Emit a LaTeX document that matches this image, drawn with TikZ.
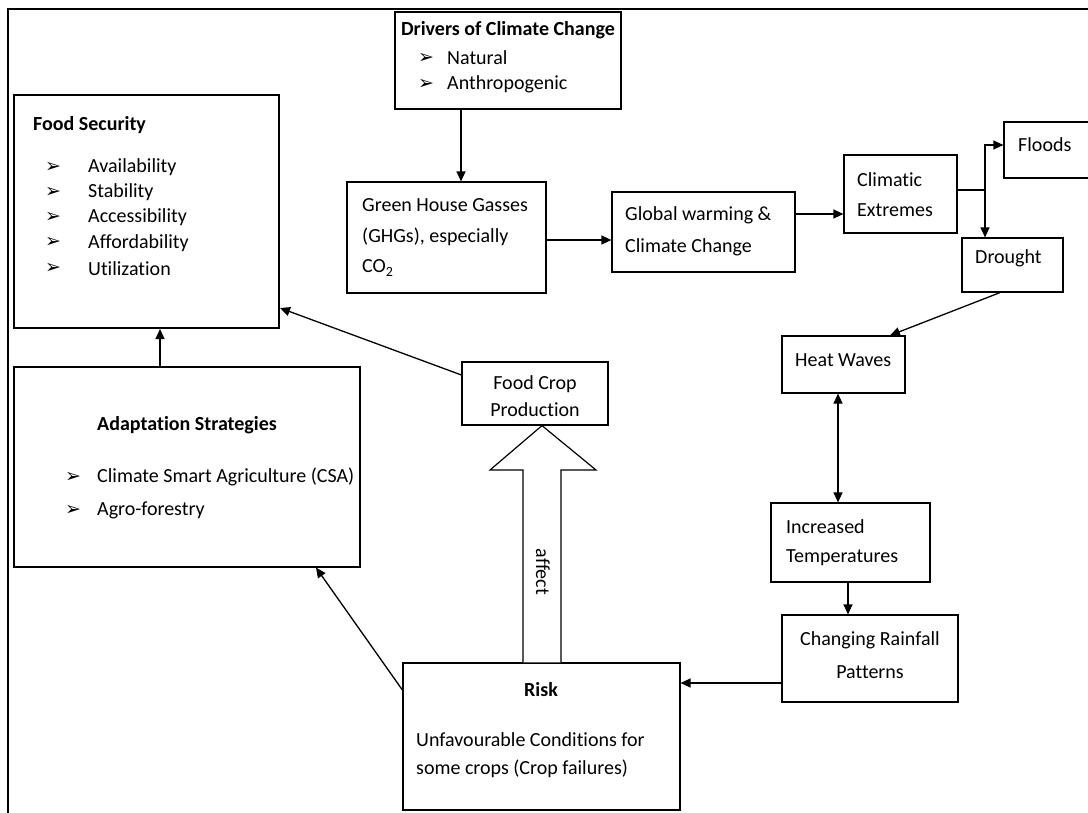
\documentclass[tikz,border=0pt]{standalone}
\usepackage{fontspec}
\setmainfont{Carlito}[Ligatures=NoCommon]
\newfontfamily\dv{DejaVu Sans}
\usetikzlibrary{arrows.meta,fit}
\newcommand\bul{{\dv\fontsize{19}{19}\selectfont ➢}}
\begin{document}
\begin{tikzpicture}[x=1pt,y=-1pt,
  box/.style={draw, line width=1.2pt, inner sep=0pt},
  tbox/.style={draw, line width=2pt, inner sep=0pt},
  txt/.style={inner sep=0pt, anchor=west, font=\fontsize{20}{25}\selectfont},
  ctxt/.style={inner sep=0pt, anchor=center, font=\fontsize{20}{25}\selectfont},
  arr/.style={-{Triangle[length=10pt,width=9pt]}, line width=1.3pt},
  arrr/.style={{Triangle[length=10pt,width=9pt]}-{Triangle[length=10pt,width=9pt]}, line width=1.3pt}
]
\useasboundingbox (0,0) rectangle (1088,812);
\fill[white] (0,0) rectangle (1088,812);
% outer frame (only top and left visible)
\draw[line width=2.5pt] (8,840) -- (8,9) -- (1120,9);

% boxes
\node[box, fit={(395,12)(621,109)}] (drv) {};
\node[tbox, fit={(14,95)(279,328)}] (fs) {};
\node[box, fit={(347,182)(546,293)}] (ghg) {};
\node[box, fit={(612,192)(795,272)}] (gw) {};
\node[box, fit={(844,155)(957,233)}] (ce) {};
\node[box, fit={(1004,122)(1100,178)}] (fl) {};
\node[box, fit={(962,238)(1063,292)}] (dr) {};
\node[box, fit={(782,336)(905,393)}] (hw) {};
\node[box, fit={(771,503)(930,582)}] (it) {};
\node[box, fit={(782,615)(958,702)}] (cr) {};
\node[box, fit={(403,663)(680,810)}] (risk) {};
\node[box, fit={(462,362)(608,425)}] (fc) {};
\node[box, fit={(14,367)(360,567)}] (ad) {};

% texts
\node[ctxt, font=\fontsize{20}{25}\selectfont\bfseries] (tdrv) at (508,30) {Drivers of Climate Change};
\node[txt] (b1) at (418,58) {\bul};
\node[txt] (n1) at (447,58) {Natural};
\node[txt] (b2) at (418,84) {\bul};
\node[txt] (n2) at (447,84) {Anthropogenic};

\node[txt, font=\fontsize{20}{25}\selectfont\bfseries] (tfs) at (33,125) {Food Security};
\foreach \t [count=\i from 0] in {Availability,Stability,Accessibility,Affordability,Utilization}{
  \node[txt] (fsb\i) at (45,167+25.3*\i) {\bul};
  \node[txt] (fst\i) at (88,167+25.3*\i) {\t};
}

\node[txt] (g1) at (362,205) {Green House Gasses};
\node[txt] (g2) at (362,237) {(GHGs), especially};
\node[txt] (g3) at (362,268) {CO\textsubscript{2}};

\node[txt] (w1) at (625,215) {Global warming \&};
\node[txt] (w2) at (625,247) {Climate Change};

\node[txt] (c1) at (857,180) {Climatic};
\node[txt] (c2) at (857,210) {Extremes};

\node[txt] (f1) at (1018,145) {Floods};
\node[txt] (d1) at (975,258) {Drought};
\node[txt] (h1) at (795,360) {Heat Waves};
\node[txt] (i1) at (786,527) {Increased};
\node[txt] (i2) at (786,558) {Temperatures};
\node[ctxt] (r1) at (870,640) {Changing Rainfall};
\node[ctxt] (r2) at (870,672) {Patterns};

\node[ctxt, font=\fontsize{20}{25}\selectfont\bfseries] (rk) at (541,690) {Risk};
\node[txt] (rk1) at (416,740) {Unfavourable Conditions for};
\node[txt] (rk2) at (416,769) {some crops (Crop failures)};

\node[ctxt] (p1) at (535,384) {Food Crop};
\node[ctxt] (p2) at (535,410) {Production};

\node[ctxt, font=\fontsize{20}{25}\selectfont\bfseries] (ta) at (187,425) {Adaptation Strategies};
\node[txt] (ab1) at (65,477) {\bul};
\node[txt] (at1) at (97,477) {Climate Smart Agriculture (CSA)};
\node[txt] (ab2) at (65,510) {\bul};
\node[txt] (at2) at (97,510) {Agro-forestry};

% big hollow arrow
\coordinate (tip) at (542,0 |- fc.south);
\draw[line width=1.2pt, fill=white] (523,0 |- risk.north) -- (523,470) -- (490,470) -- (tip) -- (596,470) -- (561,470) -- (561,0 |- risk.north);
\node[ctxt, rotate=-90] (aff) at (543,572) {affect};

% connectors
\draw[arr] (461,0 |- drv.south) -- (461,0 |- ghg.north);
\draw[arr] (ghg.east |- 0,240) -- (gw.west |- 0,240);
\draw[arr] (gw.east |- 0,214) -- (ce.west |- 0,214);
\coordinate (j) at (985,190);
\draw[line width=1.3pt] (ce.east |- j) -- (j);
\draw[arr] (j) |- (fl.west |- 0,145);
\draw[arr] (j) -- (j |- dr.north);
\draw[arr] (1000,0 |- dr.south) -- (890,0 |- hw.north);
\draw[arrr] (838,0 |- hw.south) -- (838,0 |- it.north);
\draw[arr] (848,0 |- it.south) -- (848,0 |- cr.north);
\draw[arr] (cr.west |- 0,683) -- (risk.east |- 0,683);
\draw[arr] (risk.west |- 0,690) -- (316,0 |- ad.south);
\draw[arr] (fc.west |- 0,375) -- (fs.east |- 0,308);
\draw[arr] (160,0 |- ad.north) -- (160,0 |- fs.south);
\end{tikzpicture}
\end{document}
